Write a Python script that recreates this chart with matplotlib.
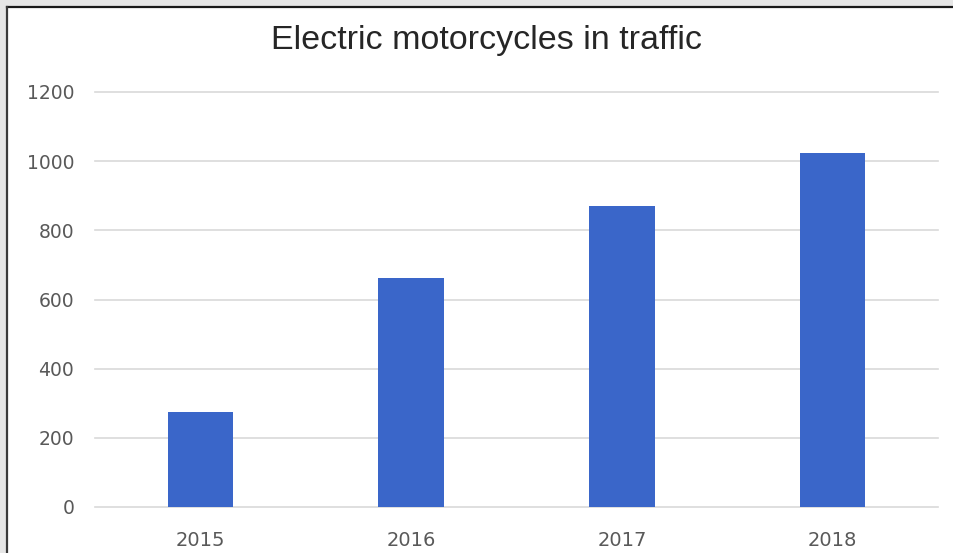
import matplotlib
matplotlib.use("Agg")
import matplotlib.pyplot as plt
from matplotlib.patches import Rectangle
from matplotlib.lines import Line2D

categories = ["2015", "2016", "2017", "2018"]
values = [275, 662, 870, 1025]
yticks = [0, 200, 400, 600, 800, 1000, 1200]
title = "Electric motorcycles in traffic"

W, H = 954, 553
fig = plt.figure(figsize=(W / 100, H / 100), dpi=100)
fig.patch.set_facecolor("white")

# window frame decoration (gray strips + dark edges at top and left)
fig.add_artist(Rectangle((0, 1 - 7 / H), 1, 7 / H, transform=fig.transFigure,
                         facecolor="#e6e6e6", edgecolor="none", zorder=0))
fig.add_artist(Rectangle((0, 0), 7 / W, 1, transform=fig.transFigure,
                         facecolor="#e6e6e6", edgecolor="none", zorder=0))
fig.add_artist(Line2D([7.5 / W, 1], [1 - 7 / H, 1 - 7 / H], transform=fig.transFigure,
                      color="#1a1a1a", lw=1.6))
fig.add_artist(Line2D([7.5 / W, 7.5 / W], [0, 1 - 7 / H], transform=fig.transFigure,
                      color="#3a3a3a", lw=1.6))

ax = fig.add_axes([95 / W, (H - 507) / H, 843 / W, 415 / H])
x = range(len(categories))
ax.bar(x, values, width=0.31, color="#3A66C9", zorder=3)
ax.set_xlim(-0.5, len(categories) - 0.5)
ax.set_ylim(0, 1200)
ax.set_yticks(yticks)
ax.set_xticks(list(x))
ax.set_xticklabels(categories)
ax.grid(axis="y", color="#d9d9d9", lw=1.2, zorder=0)
for gl in ax.get_ygridlines():
    gl.set_clip_on(False)
for s in ax.spines.values():
    s.set_visible(False)
ax.tick_params(axis="both", length=0, colors="#595959")
ax.tick_params(axis="y", pad=15, labelsize=13.5)
ax.tick_params(axis="x", pad=17, labelsize=14)
ax.set_facecolor("none")

fig.text(487 / W, 1 - 41 / H, title, ha="center", va="center",
         fontsize=24.5, color="#262626", family="Liberation Sans")

fig.savefig("out.png", dpi=100)
